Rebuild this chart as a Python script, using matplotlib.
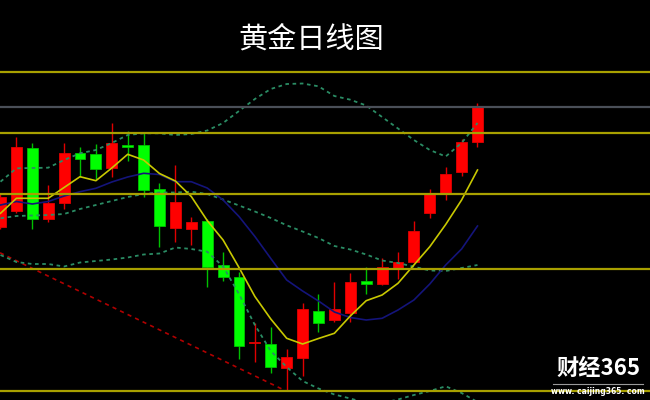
import matplotlib
matplotlib.use("Agg")
import matplotlib.pyplot as plt
from matplotlib.lines import Line2D

# daily gold candles (chart units, higher = higher price)
opens = [173.3, 189.3, 252.3, 181.3, 197.3, 246.7, 246.0, 231.7, 255.0, 255.0,
         211.0, 172.3, 171.0, 179.3, 135.0, 123.3, 56.7, 56.0, 32.3, 42.3,
         89.0, 80.0, 86.7, 119.3, 116.0, 131.7, 137.7, 187.3, 207.3, 228.3, 258.3]
highs = [207.0, 263.3, 257.3, 214.7, 257.3, 253.3, 256.0, 276.7, 269.0, 266.7,
         217.3, 235.0, 182.7, 181.3, 148.3, 128.3, 76.7, 72.7, 51.0, 96.7,
         105.7, 117.7, 126.7, 132.7, 142.3, 147.7, 179.0, 211.3, 233.3, 260.7, 297.3]
lows = [171.0, 187.3, 170.7, 178.3, 190.7, 223.3, 220.7, 222.7, 239.3, 203.3,
        152.7, 158.3, 155.0, 112.7, 119.0, 40.7, 38.3, 26.7, 9.0, 24.5,
        68.3, 78.3, 78.3, 106.0, 115.0, 120.7, 137.5, 182.3, 200.0, 224.0, 253.3]
closes = [203.3, 253.3, 180.7, 196.7, 246.7, 241.0, 230.7, 256.7, 253.3, 210.0,
          174.0, 197.7, 177.7, 133.3, 122.7, 54.0, 58.3, 32.7, 42.7, 90.7,
          77.3, 91.3, 118.3, 116.0, 132.7, 137.7, 169.3, 207.3, 225.7, 258.3, 294.0]

ma_fast = [186.7, 201.7, 201.7, 201.7, 212.5, 223.3, 219.3, 232.0, 245.7, 240.0,
           226.5, 219.0, 203.5, 179.5, 160.0, 132.5, 103.5, 81.0, 61.7, 56.0,
           61.5, 66.7, 84.0, 99.3, 105.0, 116.7, 135.0, 153.3, 175.5, 200.0, 230.0]
ma_slow = [195.0, 198.5, 196.0, 198.5, 204.0, 208.3, 211.7, 218.0, 223.0, 226.7,
           225.5, 218.3, 218.3, 212.0, 200.0, 183.5, 163.5, 141.5, 120.0, 109.0,
           99.0, 88.0, 82.5, 80.0, 81.7, 90.0, 100.0, 116.0, 135.0, 151.0, 174.0]
boll_upper = [218.3, 231.7, 232.0, 232.3, 240.0, 246.7, 250.0, 257.0, 265.0, 266.7,
              266.7, 265.0, 266.0, 269.5, 277.0, 289.0, 301.0, 311.0, 316.0, 316.5,
              313.7, 304.0, 300.3, 294.5, 283.0, 271.5, 260.0, 250.0, 243.5, 257.0, 277.0]
boll_mid = [181.7, 184.0, 184.5, 185.0, 186.0, 191.0, 195.0, 199.0, 203.0, 206.0,
            207.5, 207.5, 208.3, 206.0, 200.5, 194.5, 188.5, 182.0, 174.7, 168.5,
            162.0, 154.0, 150.5, 145.5, 139.5, 137.0, 133.3, 129.5, 129.0, 132.0, 135.0]
boll_lower = [145.0, 138.0, 136.0, 136.0, 133.5, 137.5, 139.0, 140.5, 142.5, 145.5,
              146.5, 152.5, 151.0, 148.3, 133.5, 106.0, 75.0, 49.0, 33.0, 19.0,
              11.5, 5.5, 1.5, -3.0, -3.0, 0.5, 5.0, 9.0, 13.7, 7.0, -2.0]

# support / resistance levels and the falling trend line
yellow_levels = [328.3, 267.3, 206.0, 131.3, 8.7]
gray_level = 293.3
trend_idx = [-0.03, 18.0]
trend_vals = [147.2, 8.7]

RED = "#ff0000"
GREEN = "#00ff00"

fig = plt.figure(figsize=(6.5, 4), dpi=100, facecolor="black")
ax = fig.add_axes([0, 0, 1, 1], facecolor="black")
ax.set_xlim(-0.031, 40.85)
ax.set_ylim(0, 400)
ax.axis("off")

idx = list(range(len(opens)))

for i in idx:
    up = closes[i] >= opens[i]
    color = RED if up else GREEN
    edge = "#e00000" if up else "#00c000"
    ax.vlines(i, lows[i], highs[i], color=edge, linewidth=1.0, zorder=1)
    bottom = min(opens[i], closes[i])
    height = max(abs(closes[i] - opens[i]), 1.2)
    ax.bar(i, height, bottom=bottom, width=0.69, color=color,
           edgecolor=edge, linewidth=0.6, zorder=2)

ax.plot(trend_idx, trend_vals, color="#b00000", linewidth=1.2,
        linestyle=(0, (2.5, 2.5)), zorder=3)

for band in (boll_upper, boll_mid, boll_lower):
    ax.plot(idx, band, color="#2a8c64", linewidth=1.3,
            linestyle=(0, (2, 2)), zorder=3)

ax.plot(idx, ma_slow, color="#14147a", linewidth=1.2, zorder=4)
ax.plot(idx, ma_fast, color="#c8c800", linewidth=1.2, zorder=4)

for level in yellow_levels:
    ax.axhline(level, color="#a8a000", linewidth=1.6, zorder=5)
ax.axhline(gray_level, color="#4a4f58", linewidth=1.6, zorder=5)

fig.text(0.479, 0.902, "黄金日线图", color="white", fontsize=21,
         family=["Noto Sans CJK SC", "DejaVu Sans"], fontweight="light",
         ha="center", va="center")

# watermark
fig.text(0.92, 0.08, "财经365", color="white", fontsize=16,
         family=["Noto Sans CJK SC", "DejaVu Sans"], fontweight="bold",
         ha="center", va="center")
fig.add_artist(Line2D([553 / 650, 643 / 650], [1 - 383.5 / 400, 1 - 383.5 / 400],
                      color="#9a9a9a", linewidth=0.8))
fig.text(0.92, 1 - 391 / 400, "www. caijing365. com", color="white", fontsize=5.5,
         family="DejaVu Sans", fontweight="bold", ha="center", va="center")

fig.savefig("out.png", dpi=100, facecolor="black")
